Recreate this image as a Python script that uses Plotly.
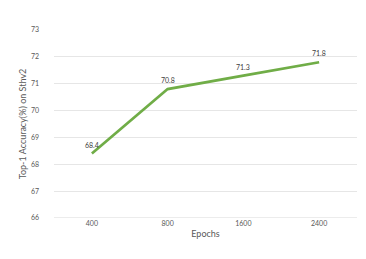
import plotly.graph_objects as go

epochs = ["400", "800", "1600", "2400"]
accuracy = [68.4, 70.8, 71.3, 71.8]
y_ticks = [66, 67, 68, 69, 70, 71, 72, 73]

fig = go.Figure()
fig.add_trace(go.Scatter(
    x=epochs, y=accuracy, mode="lines",
    line=dict(color="#70AD47", width=2.7),
    cliponaxis=False,
))
for i, v in enumerate(accuracy):
    fig.add_annotation(x=i, y=v, text=str(v), showarrow=False, yshift=9,
                       font=dict(family="Lato, Open Sans, sans-serif", size=7, color="#404040"))

fig.update_layout(
    width=366, height=259,
    margin=dict(l=46, r=17, t=22, b=49),
    paper_bgcolor="white", plot_bgcolor="white",
    showlegend=False,
    font=dict(family="Lato, Open Sans, sans-serif", color="#595959"),
)
fig.update_xaxes(
    type="category", range=[-0.5, 3.5],
    showgrid=False, showline=False, zeroline=False,
    tickfont=dict(size=7, color="#595959"), ticks="",
    title=dict(text="Epochs", font=dict(size=9, color="#595959"), standoff=4),
)
fig.update_yaxes(
    range=[66, 73], tickvals=y_ticks,
    showgrid=True, gridcolor="#E6E6E6", gridwidth=1, zeroline=False,
    tickfont=dict(size=7, color="#595959"), ticks="", ticklabelstandoff=14,
    title=dict(text="Top-1 Accuracy(%) on Sthv2", font=dict(size=9, color="#595959"), standoff=2),
)
fig.add_shape(type="line", xref="paper", yref="y", x0=0, x1=1, y0=66, y1=66,
              line=dict(color="#D9D9D9", width=1.2))

fig.write_html("out.html")
